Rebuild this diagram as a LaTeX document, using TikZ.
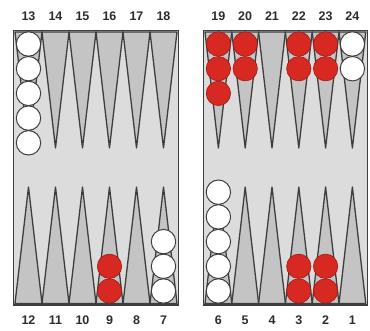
\documentclass[tikz,border=0pt]{standalone}
\usepackage{fontspec}
\setmainfont{Liberation Sans}
\definecolor{boardbg}{RGB}{220,220,220}
\definecolor{pointfill}{RGB}{196,196,196}
\definecolor{edgecol}{RGB}{62,62,62}
\definecolor{chred}{RGB}{216,40,34}
\definecolor{chredline}{RGB}{150,30,25}
\definecolor{labelcol}{RGB}{45,45,45}
\tikzset{
  boardframe/.style={draw=edgecol,line width=1.8pt},
  pointtri/.style={fill=pointfill,draw=edgecol,line width=1.3pt,line join=round},
  whitechk/.style={circle,fill=white,draw=edgecol,line width=1pt,minimum size=24.4pt,inner sep=0pt},
  redchk/.style={circle,fill=chred,draw=chredline,line width=0.6pt,minimum size=24.4pt,inner sep=0pt},
  ptlabel/.style={font=\bfseries\fontsize{12.5}{12.5}\selectfont,text=labelcol,inner sep=0pt}
}
\begin{document}
\begin{tikzpicture}[x=1pt,y=-1pt]
\useasboundingbox (0,0) rectangle (370,330);
% boards
\fill[boardbg] (13.5,30.5) rectangle (178.5,305);
\fill[boardbg] (203.5,30.5) rectangle (367.5,305);
% points
\foreach \xs/\w in {15/27, 205/26.8} {
  \foreach \i in {0,...,5} {
    \pgfmathsetmacro{\xa}{\xs+\i*\w}
    \pgfmathsetmacro{\xm}{\xs+\i*\w+\w/2}
    \pgfmathsetmacro{\xb}{\xs+(\i+1)*\w}
    \draw[pointtri] (\xa,32) -- (\xm,148) -- (\xb,32) -- cycle;
    \draw[pointtri] (\xa,303.5) -- (\xm,187) -- (\xb,303.5) -- cycle;
  }
}
% checkers: column centre / count / style / top(1) or bottom(0)
\foreach \cx/\n/\s/\t [count=\k] in {
  28.5/5/whitechk/1, 218.4/3/redchk/1, 245.2/2/redchk/1, 298.8/2/redchk/1,
  325.6/2/redchk/1, 352.4/2/whitechk/1,
  109.5/2/redchk/0, 163.5/3/whitechk/0, 218.4/5/whitechk/0,
  298.8/2/redchk/0, 325.6/2/redchk/0} {
  \foreach \j in {1,...,\n} {
    \ifnum\t=1
      \pgfmathsetmacro{\cy}{44+(\j-1)*24.7}
    \else
      \pgfmathsetmacro{\cy}{291+(\j-1)*(-24.7)}
    \fi
    \node[\s] (c\k-\j) at (\cx,\cy) {};
  }
}
% frames
\draw[boardframe] (13.5,30.5) rectangle (178.5,305);
\draw[boardframe] (203.5,30.5) rectangle (367.5,305);
% labels
\foreach \lab/\cx in {13/28.5,14/55.5,15/82.5,16/109.5,17/136.5,18/163.5,
  19/218.4,20/245.2,21/272,22/298.8,23/325.6,24/352.4} {
  \node[ptlabel] (t\lab) at (\cx,16) {\lab};
}
\foreach \lab/\cx in {12/28.5,11/55.5,10/82.5,9/109.5,8/136.5,7/163.5,
  6/218.4,5/245.2,4/272,3/298.8,2/325.6,1/352.4} {
  \node[ptlabel] (b\lab) at (\cx,320) {\lab};
}
\end{tikzpicture}
\end{document}
